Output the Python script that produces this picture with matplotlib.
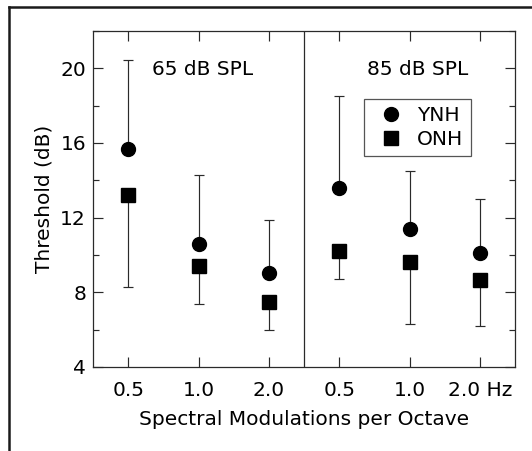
import matplotlib
matplotlib.use("Agg")
import matplotlib.pyplot as plt
from matplotlib.lines import Line2D

# Data
levels = ["65 dB SPL", "85 dB SPL"]
tick_labels = ["0.5", "1.0", "2.0", "0.5", "1.0", "2.0 Hz"]
ynh_mean = [15.7, 10.6, 9.05, 13.6, 11.4, 10.1]
ynh_upper = [20.45, 14.3, 11.85, 18.5, 14.5, 13.0]
onh_mean = [13.2, 9.4, 7.5, 10.2, 9.65, 8.65]
onh_lower = [8.3, 7.35, 6.0, 8.7, 6.3, 6.2]

W, H = 532, 451
fig = plt.figure(figsize=(W / 100, H / 100), dpi=100)

# outer frame (cropped: only top and left visible)
fig.add_artist(Line2D([9 / W, 9 / W], [0, 1 - 7 / H], color="#1a1a1a", lw=1.8,
                      transform=fig.transFigure))
fig.add_artist(Line2D([9 / W, 1], [1 - 7 / H, 1 - 7 / H], color="#1a1a1a", lw=1.8,
                      transform=fig.transFigure))

ax = fig.add_axes([93 / W, 1 - 367 / H, (515 - 93) / W, (367 - 31) / H])

x = list(range(len(tick_labels)))
lc = "#2a2a2a"

ynh_err = [[0] * len(x), [u - m for u, m in zip(ynh_upper, ynh_mean)]]
onh_err = [[m - l for m, l in zip(onh_mean, onh_lower)], [0] * len(x)]

ax.errorbar(x, ynh_mean, yerr=ynh_err, fmt="none", ecolor=lc, elinewidth=0.85,
            capsize=3.6, capthick=0.85)
ax.errorbar(x, onh_mean, yerr=onh_err, fmt="none", ecolor=lc, elinewidth=0.85,
            capsize=3.6, capthick=0.85)
ax.plot(x, ynh_mean, "o", color="black", markersize=10, label="YNH", zorder=5)
ax.plot(x, onh_mean, "s", color="black", markersize=9.5, label="ONH", zorder=5)

ax.axvline(2.5, color=lc, lw=0.9)

ax.set_xlim(-0.5, 5.5)
ax.set_ylim(4, 22)
ax.set_xticks(x)
ax.set_xticklabels(tick_labels)
ax.set_yticks([4, 8, 12, 16, 20])
ax.set_yticks([6, 10, 14, 18, 22], minor=True)

fs = 14.5
ax.tick_params(axis="both", which="major", direction="in", length=7, width=0.85,
               color=lc, labelsize=fs, pad=5, top=True, right=True)
ax.tick_params(axis="y", which="minor", direction="in", length=4.3, width=0.85,
               color=lc, left=True, right=True)
ax.tick_params(axis="x", which="major", pad=10)
for s in ax.spines.values():
    s.set_color(lc)
    s.set_linewidth(0.9)

ax.text(0.34, 19.95, levels[0], fontsize=fs, ha="left", va="center")
ax.text(3.40, 19.95, levels[1], fontsize=fs, ha="left", va="center")

ax.set_ylabel("Threshold (dB)", fontsize=fs, labelpad=5)
ax.set_xlabel("Spectral Modulations per Octave", fontsize=fs, labelpad=7)

leg = ax.legend(loc="upper left", bbox_to_anchor=(0.642, 0.798), frameon=True,
                fancybox=False, edgecolor=lc, fontsize=fs, handlelength=2.0,
                handletextpad=0.3, borderpad=0.35, labelspacing=0.25,
                borderaxespad=0)
leg.get_frame().set_linewidth(0.9)

fig.savefig("out.png", dpi=100)
